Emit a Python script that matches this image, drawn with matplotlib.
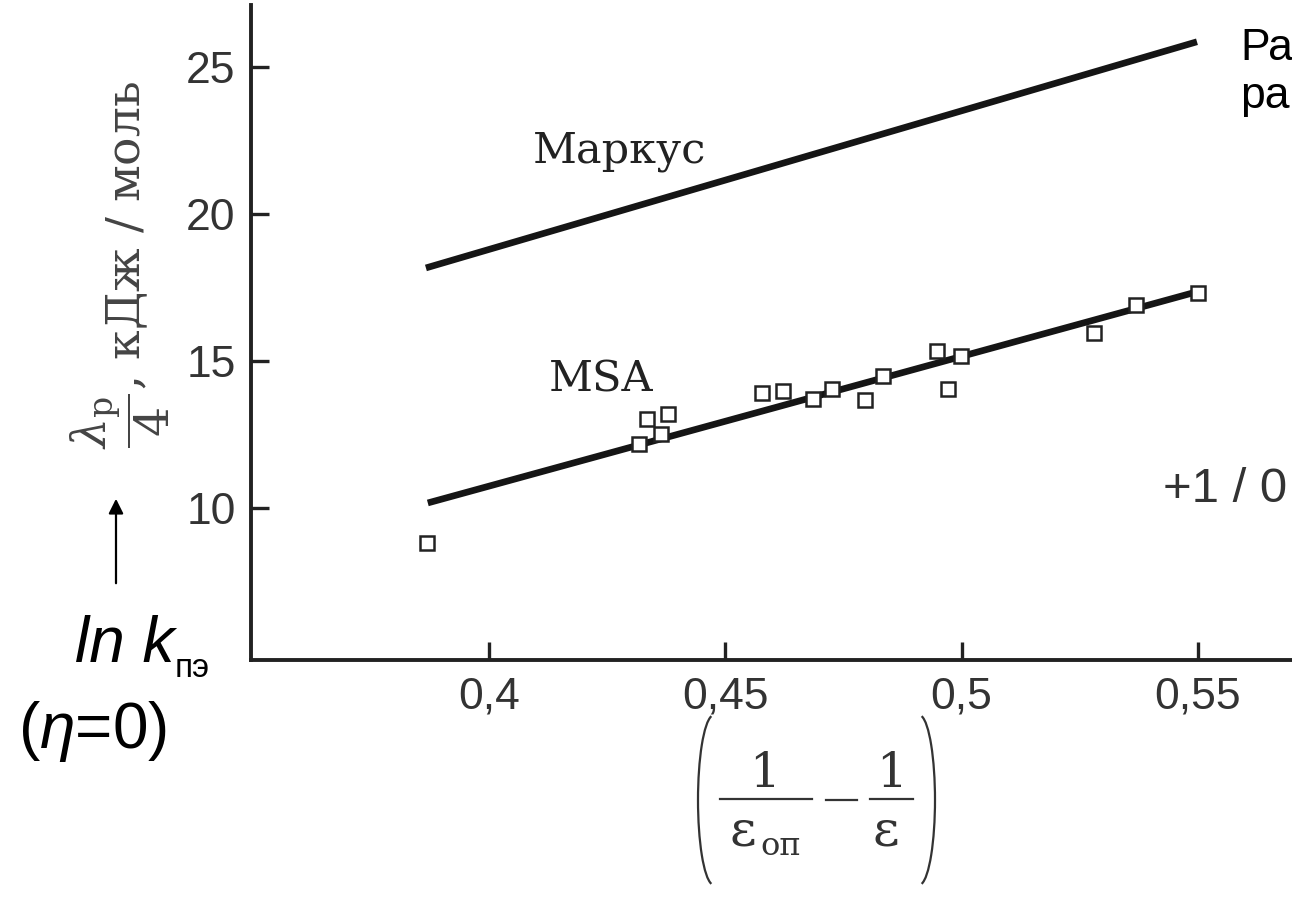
import matplotlib
matplotlib.use("Agg")
import matplotlib.pyplot as plt
from matplotlib.patches import Arc
from matplotlib.lines import Line2D
from matplotlib.transforms import IdentityTransform

# axis ticks
x_ticks = [0.4, 0.45, 0.5, 0.55]
x_tick_labels = ["0,4", "0,45", "0,5", "0,55"]
y_ticks = [10, 15, 20, 25]
y_tick_labels = ["10", "15", "20", "25"]

# MSA points (open squares)
msa_x = [0.3869, 0.4317, 0.4334, 0.4364, 0.4379, 0.4577, 0.4622, 0.4685,
         0.4725, 0.4795, 0.4833, 0.4948, 0.4971, 0.4999, 0.5280, 0.5369, 0.5501]
msa_y = [8.81, 12.18, 13.03, 12.52, 13.20, 13.90, 13.99, 13.70,
         14.04, 13.67, 14.49, 15.32, 14.06, 15.17, 15.96, 16.89, 17.32]

# straight lines, end points
msa_line_x = [0.3871, 0.5498]
msa_line_y = [10.17, 17.35]
markus_line_x = [0.3867, 0.5498]
markus_line_y = [18.16, 25.85]

W, H = 1292, 898

plt.rcParams['mathtext.fontset'] = 'custom'
plt.rcParams['mathtext.rm'] = 'Liberation Sans'
plt.rcParams['mathtext.it'] = 'Liberation Sans:italic'

fig = plt.figure(figsize=(W / 100, H / 100), dpi=100)
ax = fig.add_axes([251 / W, 1 - 660 / H, 1 - 251 / W, (660 - 5) / H])
ax.set_xlim(0.3497, 0.5699)
ax.set_ylim(4.83, 27.1)

ax.plot(markus_line_x, markus_line_y, color='#151515', lw=4.8, solid_capstyle='butt', zorder=2)
ax.plot(msa_line_x, msa_line_y, color='#151515', lw=4.8, solid_capstyle='butt', zorder=2)
ax.plot(msa_x, msa_y, ls='none', marker='s', ms=10.5, mfc='white', mec='#222', mew=1.8, zorder=3)

for s in ['top', 'right']:
    ax.spines[s].set_visible(False)
for s in ['left', 'bottom']:
    ax.spines[s].set_linewidth(2.8)
    ax.spines[s].set_color('#222')

ax.set_xticks(x_ticks)
ax.set_xticklabels(x_tick_labels)
ax.set_yticks(y_ticks)
ax.set_yticklabels(y_tick_labels)
ax.minorticks_off()
ax.tick_params(direction='in', length=13, width=2.4, color='#222',
               labelsize=32, labelcolor='#333')
ax.tick_params(axis='y', pad=11)
ax.tick_params(axis='x', pad=12)
for lab in ax.get_xticklabels() + ax.get_yticklabels():
    lab.set_family('Liberation Sans')


def px(x, y):
    # source picture pixels (origin top left) -> figure fraction
    return x / W, 1 - y / H


fig.text(*px(620, 163), 'Маркус', family='DejaVu Serif', size=31,
         color='#222', ha='center', va='baseline')
fig.text(*px(601, 391), 'MSA', family='DejaVu Serif', size=31,
         color='#222', ha='center', va='baseline')

# y label (rotated, with fraction)
fig.text(*px(141, 265), r'$\dfrac{\lambda_{\mathrm{р}}}{4}$, кДж / моль',
         family='DejaVu Serif', math_fontfamily='dejavuserif', size=34,
         color='#444', rotation=90, rotation_mode='anchor', ha='center', va='baseline')

# x label: (1/ε_оп - 1/ε) set by hand so it gets the tall look of the source
lab_c = '#333'
dy = -8
serif = dict(family='DejaVu Serif', color=lab_c, va='baseline')
fig.text(*px(765, 795 + dy), '1', size=35, ha='center', **serif)
fig.text(*px(892, 795 + dy), '1', size=35, ha='center', **serif)
fig.text(*px(743, 853 + dy), 'ε', size=37, ha='center', **serif)
fig.text(*px(760, 863 + dy), 'оп', size=23, ha='left', **serif)
fig.text(*px(886, 853 + dy), 'ε', size=37, ha='center', **serif)
ident = IdentityTransform()
for x0, x1, y in [(720, 812, 807), (870, 913, 807), (826, 857, 808)]:
    fig.add_artist(Line2D([x0, x1], [H - y - dy, H - y - dy], lw=1.6, color=lab_c,
                          transform=ident))
# Arc angles are measured on the stretched ellipse, hence the values close to 90
fig.add_artist(Arc((714, H - 808 - dy), 32, 170, theta1=91.8, theta2=268.2, lw=1.6,
                   color=lab_c, transform=ident))
fig.add_artist(Arc((919, H - 808 - dy), 32, 170, theta1=-88.2, theta2=88.2, lw=1.6,
                   color=lab_c, transform=ident))

# side notes
ax.annotate('', xy=px(116, 496), xytext=px(116, 586),
            xycoords='figure fraction', textcoords='figure fraction',
            arrowprops=dict(arrowstyle='-|>', color='black', lw=1.6, mutation_scale=22),
            annotation_clip=False)
fig.text(*px(75, 662), 'ln k', family='Liberation Sans', style='italic',
         size=46, color='black', va='baseline')
fig.text(*px(175, 677), 'пэ', family='Liberation Sans', size=24,
         color='black', va='baseline')
fig.text(*px(18, 748), r'($\eta$=0)', family='Liberation Sans', size=46,
         color='black', va='baseline')

fig.text(*px(1240, 60), 'Ра', family='Liberation Sans', size=32,
         color='black', va='baseline')
fig.text(*px(1240, 108), 'ра', family='Liberation Sans', size=32,
         color='black', va='baseline')
fig.text(*px(1163, 502), '+1 / 0', family='Liberation Sans', size=35.5,
         color='#333', va='baseline')

fig.savefig('out.png', dpi=100)
